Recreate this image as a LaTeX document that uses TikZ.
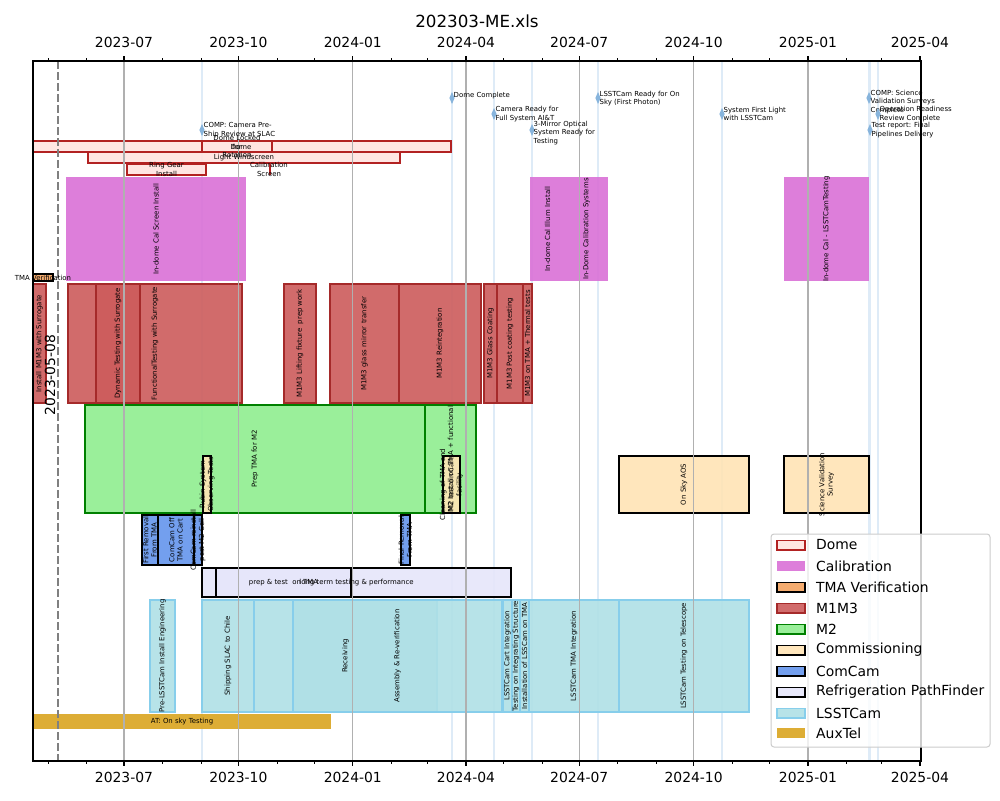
\documentclass[tikz,border=0pt]{standalone}
\usepackage{fontspec}
\setmainfont{DejaVu Sans}
\definecolor{cdome}{RGB}{255,228,225}
\definecolor{cdomeE}{RGB}{178,34,34}
\definecolor{ccal}{RGB}{218,112,214}
\definecolor{ctma}{RGB}{244,164,96}
\definecolor{cm1}{RGB}{205,92,92}
\definecolor{cm1E}{RGB}{165,42,42}
\definecolor{cm2}{RGB}{144,238,144}
\definecolor{cm2E}{RGB}{0,128,0}
\definecolor{ccom}{RGB}{255,228,181}
\definecolor{ccc}{RGB}{100,149,237}
\definecolor{cref}{RGB}{230,230,250}
\definecolor{clsst}{RGB}{176,224,230}
\definecolor{clsstE}{RGB}{135,206,235}
\definecolor{caux}{RGB}{218,165,32}
\definecolor{cgrid}{RGB}{176,176,176}
\definecolor{cmsl}{RGB}{222,235,247}
\definecolor{cms}{RGB}{135,180,220}
\definecolor{clegE}{RGB}{204,204,204}
\pgfdeclarelayer{bgw}\pgfdeclarelayer{ml}\pgfdeclarelayer{bars}\pgfdeclarelayer{gr}
\pgfsetlayers{bgw,ml,bars,gr,main}
\newcommand{\vb}[7]{\begin{pgfonlayer}{bars}\draw[#1] (#2,#3) rectangle (#4,#5);\end{pgfonlayer}
  \node[lbl,rotate=90] (#6) at ({(#2+#4)/2},{(#3+#5)/2}) {#7};}
\newcommand{\hb}[7]{\begin{pgfonlayer}{bars}\draw[#1] (#2,#3) rectangle (#4,#5);\end{pgfonlayer}
  \node[lbl] (#6) at ({(#2+#4)/2},{(#3+#5)/2}) {#7};}
\newcommand{\mstone}[5]{\begin{pgfonlayer}{ml}\draw[cmsl,line width=2pt] (#1,61) -- (#1,761);\end{pgfonlayer}
  \fill[cms] (#1,#2) +(0,-6) -- +(2.6,0) -- +(0,6) -- +(-2.6,0) -- cycle;
  \node[lbl,anchor=west,align=left] (#5) at (#1+1.5,#4) {#3};}
\newcommand{\legitem}[4]{\draw[#1] (777,#2-4.9) rectangle (805,#2+4.9);
  \node[legtext,anchor=west] (#3) at (816,#2) {#4};}
\begin{document}
\begin{tikzpicture}[x=1pt,y=-1pt,
  lbl/.style={font=\fontsize{6.94}{8.3}\selectfont, inner sep=0pt, align=center},
  tick/.style={font=\fontsize{13.9}{16.7}\selectfont, inner sep=0pt},
  legtext/.style={font=\fontsize{13.9}{16.7}\selectfont, inner sep=0pt},
  dome/.style={fill=cdome, draw=cdomeE, line width=1.2pt, fill opacity=0.9},
  cal/.style={fill=ccal, draw=none, fill opacity=0.9},
  tma/.style={fill=ctma, draw=black, line width=1.2pt, fill opacity=0.9},
  mone/.style={fill=cm1, draw=cm1E, line width=1.2pt, fill opacity=0.9},
  mtwo/.style={fill=cm2, draw=cm2E, line width=1.2pt, fill opacity=0.9},
  comm/.style={fill=ccom, draw=black, line width=1.2pt, fill opacity=0.9},
  ccam/.style={fill=ccc, draw=black, line width=1.2pt, fill opacity=0.9},
  refr/.style={fill=cref, draw=black, line width=1.2pt, fill opacity=0.9},
  lsst/.style={fill=clsst, draw=clsstE, line width=1.2pt, fill opacity=0.9},
  aux/.style={fill=caux, draw=none, fill opacity=0.9}]
\useasboundingbox (0,0) rectangle (1000,800);
\begin{pgfonlayer}{bgw}\fill[white] (0,0) rectangle (1000,800);\end{pgfonlayer}
% milestones
\mstone{202}{130}{COMP: Camera Pre-\\Ship Review at SLAC}{130}{m1}
\mstone{452}{98}{Dome Complete}{96}{m2}
\mstone{494}{114}{Camera Ready for\\Full System AI\&T}{114}{m3}
\mstone{532}{130}{3-Mirror Optical\\System Ready for\\Testing}{133}{m4}
\mstone{598}{98}{LSSTCam Ready for On\\Sky (First Photon)}{98.5}{m5}
\mstone{722}{114}{System First Light\\with LSSTCam}{114}{m6}
\mstone{869}{98}{COMP: Science\\Validation Surveys\\Complete}{102}{m7}
\mstone{878}{114}{Operation Readiness\\Review Complete}{114}{m8}
\mstone{870}{130}{Test report: Final\\Pipelines Delivery}{130}{m9}
% Dome
\hb{dome}{33}{141}{451}{152}{d1}{}
\hb{dome}{202}{141}{272}{152}{d2}{Dome Locked\\for\\Rotation}
\node[lbl] (d1t) at (241,147) {Dome};
\hb{dome}{88}{152}{400}{163}{d3}{Light Windscreen}
\hb{dome}{127}{164}{206}{175}{d4}{Ring Gear\\Install}
\begin{pgfonlayer}{bars}\draw[cdomeE,line width=1.2pt] (270,164) -- (270,175);\end{pgfonlayer}
\node[lbl] (d5) at (269,169.5) {Calibration\\Screen};
% Calibration
\vb{cal}{66}{177}{246}{281}{c1}{In-dome Cal Screen Install}
\vb{cal}{530}{177}{565}{281}{c2}{In-dome Cal Illum Install}
\vb{cal}{565}{177}{608}{281}{c3}{In-Dome Calibration Systems}
\vb{cal}{784}{177}{869}{281}{c4}{In-dome Cal - LSSTCamTesting}
% TMA
\hb{tma}{33}{274}{53}{281}{t1}{TMA Verification}
% M1M3
\vb{mone}{33}{284}{46}{403}{a1}{Install M1M3 with Surrogate}
\vb{mone}{68}{284}{242}{403}{a2}{FunctionalTesting with Surrogate}
\vb{mone}{96}{284}{140}{403}{a3}{Dynamic Testing with Surrogate}
\vb{mone}{284}{284}{316}{403}{a4}{M1M3 Lifting fixture\ \ prep work}
\vb{mone}{330}{284}{399}{403}{a5}{M1M3 glass mirror transfer}
\vb{mone}{399}{284}{481}{403}{a6}{M1M3 Reintegration}
\vb{mone}{484}{284}{497}{403}{a7}{M1M3 Glass Coating}
\vb{mone}{497}{284}{523}{403}{a8}{M1M3 Post coating testing}
\vb{mone}{523}{284}{532}{403}{a9}{M1M3 on TMA + Thermal tests}
% M2
\vb{mtwo}{85}{405}{425}{513}{b1}{Prep TMA for M2}
\vb{mtwo}{425}{405}{476}{513}{b2}{M2 Install on TMA + functional}
% Commissioning
\vb{comm}{203}{456}{211}{513}{e1}{Rubin System\\Observing Tests}
\vb{comm}{443}{456}{460}{513}{e2}{Cleaning of TMA and\\M2 test on Cart\\facility}
\vb{comm}{619}{456}{749}{513}{e3}{On Sky AOS}
\vb{comm}{784}{456}{869}{513}{e4}{Science Validation\\Survey}
% ComCam
\vb{ccam}{142}{515}{158}{565}{f1}{First Removal\\From TMA}
\vb{ccam}{158}{515}{194}{565}{f2}{ComCam Off\\TMA on Cart}
\vb{ccam}{194}{515}{202}{565}{f3}{ComCam reinstall\\post M2 Cell}
\vb{ccam}{401}{515}{410}{565}{f4}{Final Removal\\From TMA}
% Refrigeration
\hb{refr}{202}{568}{511}{597}{g1}{long term testing \& performance}
\hb{refr}{216}{568}{351}{597}{g2}{prep \& test\ \ on TMA}
% LSSTCam
\vb{lsst}{150}{600}{175}{712}{h1}{Pre-LSSTCam Install Engineering}
\vb{lsst}{202}{600}{254}{712}{h2}{Shipping SLAC to Chile}
\vb{lsst}{254}{600}{437}{712}{h3}{Receiving}
\vb{lsst}{293}{600}{502}{712}{h4}{Assembly \& Re-verification}
\vb{lsst}{503}{600}{512}{712}{h5}{LSSTCam Cart Integration}
\vb{lsst}{512}{600}{520}{712}{h6}{Testing on Integrating Structure}
\vb{lsst}{520}{600}{529}{712}{h7}{Installation of LSSCam on TMA}
\vb{lsst}{529}{600}{619}{712}{h8}{LSSTCam TMA Integration}
\vb{lsst}{619}{600}{749}{712}{h9}{LSSTCam Testing on Telescope}
% AuxTel
\hb{aux}{33}{714}{331}{729}{x1}{AT: On sky Testing}
% grid
\begin{pgfonlayer}{gr}
\foreach \x in {124,238.4,352.8,466,579.2,693.6,808} \draw[cgrid,line width=1.1pt] (\x,61) -- (\x,761);
\draw[gray,line width=2pt,dash pattern=on 7.7pt off 3.3pt] (58,61) -- (58,761);
\end{pgfonlayer}
\node[tick,rotate=90] (today) at (50,375) {2023-05-08};
% axes
\draw[black,line width=1.1pt] (33,61) rectangle (921,761);
\foreach \x in {124,238.4,352.8,466,579.2,693.6,808,920} {\draw[line width=1.1pt] (\x,761) -- (\x,765.9); \draw[line width=1.1pt] (\x,61) -- (\x,56.1);}
\foreach \x in {48.1,86.7,162.6,201.1,277,314.3,391.4,427.5,503.3,541.9,617.8,656.3,732.2,769.5,846.6,881.4} {\draw[line width=0.8pt] (\x,761) -- (\x,763.8); \draw[line width=0.8pt] (\x,61) -- (\x,58.2);}
\foreach \x/\t [count=\i] in {124/2023-07,238.4/2023-10,352.8/2024-01,466/2024-04,579.2/2024-07,693.6/2024-10,808/2025-01,920/2025-04} {
  \node[tick,anchor=base] (tt\i) at (\x,48) {\t};
  \node[tick,anchor=base] (tb\i) at (\x,782) {\t};}
\node[font=\fontsize{16.7}{20}\selectfont,inner sep=0pt,anchor=base] (title) at (477,28) {202303-ME.xls};
% legend
\draw[clegE,fill=white,fill opacity=0.8,line width=1pt,rounded corners=3pt] (771,534) rectangle (990,747);
\legitem{dome}{545}{l1}{Dome}
\legitem{cal}{566}{l2}{Calibration}
\legitem{tma}{587}{l3}{TMA Verification}
\legitem{mone}{608}{l4}{M1M3}
\legitem{mtwo}{629}{l5}{M2}
\legitem{comm}{650}{l6}{Commissioning}
\legitem{ccam}{671}{l7}{ComCam}
\legitem{refr}{692}{l8}{Refrigeration PathFinder}
\legitem{lsst}{713}{l9}{LSSTCam}
\legitem{aux}{733}{l10}{AuxTel}
\end{tikzpicture}
\end{document}
